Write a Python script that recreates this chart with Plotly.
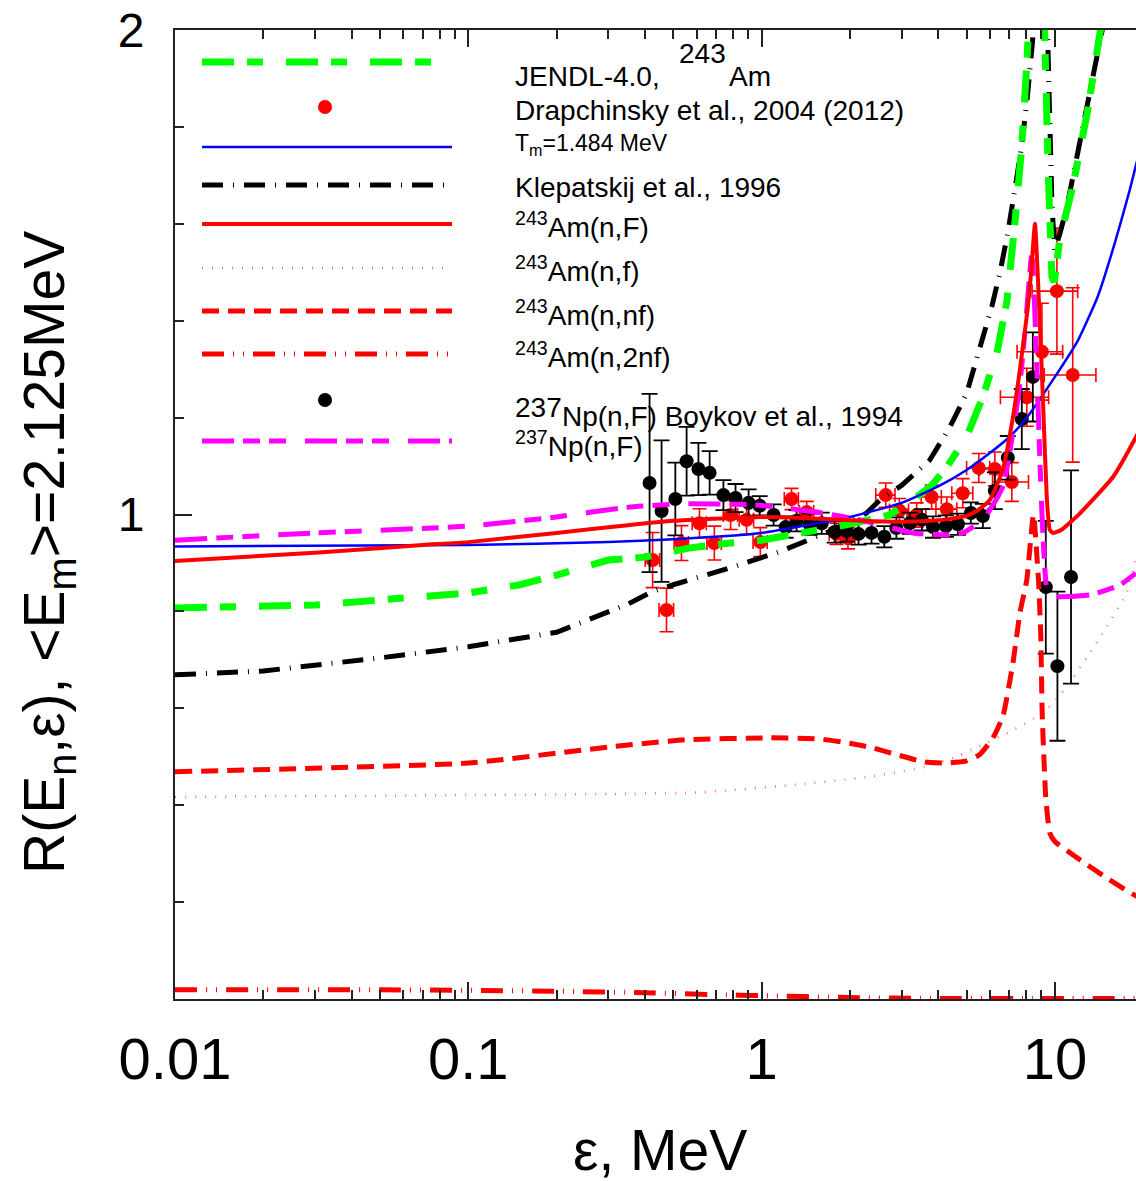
import plotly.graph_objects as go

# ---------------- data ----------------
# Maxwellian ratio, T_m = 1.484 MeV
blue_e = [0.01, 0.1, 0.3, 0.5, 1, 2, 3, 4, 5, 6, 7, 8, 10, 12, 14, 16, 18, 20]
blue_r = [0.934, 0.937, 0.943, 0.949, 0.962, 0.995, 1.024, 1.058, 1.092, 1.127,
          1.160, 1.199, 1.284, 1.36, 1.45, 1.56, 1.67, 1.78]

# 243Am(n,F) total
nF_e = [0.01, 0.03, 0.07, 0.1, 0.2, 0.35, 0.5, 0.8, 1, 1.5, 2, 3, 4, 5, 5.5, 6,
        6.64, 7.19, 7.6, 8.02, 8.3, 8.55, 8.85, 9.1, 9.39, 9.61, 9.84, 10.5,
        12.2, 15.8, 18.9, 20]
nF_r = [0.904, 0.921, 0.937, 0.943, 0.962, 0.978, 0.987, 0.993, 0.995, 0.992,
        0.988, 0.985, 0.988, 0.997, 1.01, 1.03, 1.092, 1.20, 1.30, 1.41, 1.50,
        1.60, 1.42, 1.24, 1.03, 0.968, 0.962, 0.968, 1.003, 1.078, 1.16, 1.19]

# JENDL-4.0 243Am
jendl_e = [0.01, 0.03, 0.1, 0.15, 0.2, 0.25, 0.3, 0.4, 0.57, 0.75, 1.0, 1.37, 2.0,
           2.73, 3.28, 3.8, 4.28, 5.0, 5.68, 6.34, 6.86, 7.3, 7.71, 8.02, 8.2,
           8.8, 9.22, 9.5, 9.77, 9.95, 10.4, 11.5, 12.9, 14.3, 16.0]
jendl_r = [0.807, 0.813, 0.838, 0.855, 0.875, 0.893, 0.906, 0.912, 0.931, 0.94,
           0.947, 0.962, 0.98, 0.999, 1.03, 1.06, 1.098, 1.16, 1.243, 1.333, 1.44,
           1.60, 1.76, 1.93, 2.05, 2.9, 2.0, 1.70, 1.49, 1.48, 1.57, 1.676, 1.83,
           2.0, 2.25]

# Klepatskij et al., 1996
klep_e = [0.01, 0.02, 0.05, 0.1, 0.2, 0.3, 0.35, 0.42, 0.5, 0.8, 1.15, 1.75, 2.28,
          2.53, 3.0, 3.74, 4.38, 5.0, 5.55, 6.1, 6.5, 6.9, 7.3, 7.7, 8.05, 8.4,
          8.9, 9.46, 9.6, 9.77, 9.98, 10.4, 10.99, 12.2, 13.5, 14.5, 16.0]
klep_r = [0.669, 0.677, 0.704, 0.727, 0.757, 0.80, 0.815, 0.84, 0.855, 0.892,
          0.923, 0.968, 1.003, 1.03, 1.06, 1.112, 1.18, 1.25, 1.34, 1.43, 1.50,
          1.58, 1.67, 1.76, 1.86, 1.98, 2.6, 2.0, 1.81, 1.64, 1.546, 1.58,
          1.635, 1.77, 1.90, 2.0, 2.2]

# 237Np(n,F)
np_e = [0.01, 0.03, 0.1, 0.2, 0.35, 0.54, 0.93, 1.15, 1.54, 2.16, 2.67, 3.28,
        4.28, 4.85, 5.68, 6.64, 7.19, 7.6, 7.9, 8.35, 8.68, 8.9, 9.1, 9.4, 9.8,
        10.4, 13.2, 16.7, 18.9, 20]
np_r = [0.947, 0.962, 0.976, 0.995, 1.015, 1.022, 1.02, 1.015, 1.005, 0.989,
        0.975, 0.962, 0.958, 0.962, 0.989, 1.057, 1.168, 1.27, 1.375, 1.54,
        1.30, 1.10, 0.96, 0.844, 0.83, 0.83, 0.834, 0.855, 0.879, 0.89]

# 243Am(n,nf)
nnf_e = [0.01, 0.1, 0.3, 0.55, 1.07, 1.56, 2.0, 2.4, 2.9, 3.6, 4.22, 4.96, 5.53,
         6.15, 6.66, 7.19, 7.6, 8.02, 8.45, 8.8, 8.95, 9.05, 9.3, 9.6, 10.0,
         12.0, 15.0, 18.0, 20]
nnf_r = [0.469, 0.487, 0.52, 0.535, 0.539, 0.537, 0.528, 0.518, 0.504, 0.489,
         0.487, 0.491, 0.504, 0.539, 0.585, 0.693, 0.797, 0.865, 1.0, 0.86,
         0.75, 0.59, 0.42, 0.343, 0.325, 0.29, 0.25, 0.22, 0.205]

# 243Am(n,f)
nf_e = [0.01, 0.1, 0.3, 0.63, 1.4, 2.4, 3.6, 4.7, 5.37, 7.0, 8.95, 9.84, 11.2,
        12.9, 15.0, 17.6, 18.9, 20]
nf_r = [0.417, 0.421, 0.423, 0.427, 0.444, 0.46, 0.479, 0.502, 0.518, 0.551,
        0.588, 0.61, 0.652, 0.706, 0.768, 0.84, 0.91, 0.96]

# 243Am(n,2nf)
n2nf_e = [0.01, 0.05, 0.1, 0.2, 0.4, 0.7, 1, 2, 4, 8, 20]
n2nf_r = [0.019, 0.019, 0.018, 0.016, 0.013, 0.009, 0.007, 0.003, 0.001, 0.001, 0.001]

# Drapchinsky et al., 2004 (2012)
dr_e = [0.425, 0.474, 0.533, 0.614, 0.69, 0.784, 0.889, 0.99, 1.265, 1.425, 1.8,
        1.97, 2.65, 2.95, 3.38, 3.8, 4.28, 4.85, 5.5, 6.24, 7.13, 8.02, 9.03,
        10.16, 11.5]
dr_r = [0.906, 0.803, 0.941, 0.982, 0.941, 0.999, 0.989, 0.943, 1.032, 1.005,
        0.96, 0.951, 1.04, 1.008, 0.999, 1.036, 1.011, 1.044, 1.096, 1.094,
        1.067, 1.242, 1.336, 1.461, 1.288]
dr_dr = [0.057, 0.045, 0.036, 0.03, 0.035, 0.03, 0.03, 0.03, 0.022, 0.022, 0.022,
         0.022, 0.025, 0.025, 0.025, 0.025, 0.025, 0.03, 0.03, 0.035, 0.04, 0.06,
         0.1, 0.13, 0.18]
dr_de = [0.024, 0.027, 0.03, 0.034, 0.039, 0.044, 0.05, 0.055, 0.07, 0.08, 0.1,
         0.11, 0.2, 0.22, 0.25, 0.3, 0.35, 0.4, 0.5, 0.7, 1.0, 1.5, 1.6, 1.8, 2.3]

# 237Np(n,F) Boykov et al., 1994
bo_e = [0.415, 0.456, 0.508, 0.555, 0.609, 0.665, 0.741, 0.815, 0.903, 0.985,
        1.099, 1.208, 1.316, 1.458, 1.603, 1.775, 1.95, 2.14, 2.37, 2.62, 2.88,
        3.2, 3.52, 3.84, 4.25, 4.67, 5.17, 5.68, 6.24, 6.91, 7.71, 8.41, 9.31,
        10.2, 11.35]
bo_r = [1.065, 1.007, 1.032, 1.11, 1.094, 1.086, 1.04, 1.034, 1.024, 1.018,
        0.999, 0.974, 0.987, 0.980, 0.982, 0.964, 0.966, 0.960, 0.962, 0.954,
        0.972, 0.982, 0.989, 0.974, 0.976, 0.98, 1.003, 0.997, 1.049, 1.117,
        1.197, 1.284, 0.85, 0.687, 0.871]
bo_dr = [0.184, 0.146, 0.075, 0.071, 0.054, 0.045, 0.031, 0.029, 0.028, 0.02,
         0.022, 0.022, 0.022, 0.022, 0.022, 0.022, 0.022, 0.022, 0.022, 0.022,
         0.022, 0.022, 0.022, 0.022, 0.022, 0.022, 0.022, 0.025, 0.038, 0.045,
         0.062, 0.092, 0.137, 0.154, 0.22]

x_ticks = [0.01, 0.1, 1, 10]
x_ticktext = ["0.01", "0.1", "1", "10"]
y_ticks = [0, 1, 2]
y_ticktext = ["", "1", "2"]

FONT = "Liberation Sans, Arial, Helvetica, sans-serif"

# ---------------- styles ----------------
GREEN = dict(color="#00ff00", width=7, dash="32px,13px,16px,23px")
BLACKDD = dict(color="#000000", width=5, dash="21px,10px,1px,10px")
BLUE = dict(color="#0000ff", width=2.5)
RED = dict(color="#ff0000", width=4)
PINKDOT = dict(color="rgba(255,60,60,0.7)", width=2.5, dash="1px,9px")
REDDASH = dict(color="#ff0000", width=5, dash="17px,9px")
REDDD = dict(color="#ff0000", width=5, dash="22px,9px,1px,9px,1px,9px")
MAGENTA = dict(color="#ff00ff", width=5, dash="32px,9px,17px,9px,17px,19px")

fig = go.Figure()

# experimental points
fig.add_trace(go.Scatter(
    x=dr_e, y=dr_r, mode="markers",
    marker=dict(color="#ff0000", size=14),
    error_y=dict(type="data", array=dr_dr, color="#ff0000", thickness=1.6, width=7),
    error_x=dict(type="data", array=dr_de, color="#ff0000", thickness=1.6, width=7),
    showlegend=False))
fig.add_trace(go.Scatter(
    x=bo_e, y=bo_r, mode="markers",
    marker=dict(color="#000000", size=14),
    error_y=dict(type="data", array=bo_dr, color="#000000", thickness=1.8, width=8),
    showlegend=False))

# calculated curves: (x, y, line style, spline smoothing; 0 -> straight segments)
curves = [
    (n2nf_e, n2nf_r, REDDD, 0.45),
    (nf_e, nf_r, PINKDOT, 0.45),
    (nnf_e, nnf_r, REDDASH, 0.45),
    (klep_e, klep_r, BLACKDD, 0),
    (jendl_e, jendl_r, GREEN, 0),
    (blue_e, blue_r, BLUE, 0.45),
    (np_e, np_r, MAGENTA, 0.45),
    (nF_e, nF_r, RED, 0.45),
]
for xs, ys, ln, sm in curves:
    shape = dict(shape="spline", smoothing=sm) if sm else dict(shape="linear")
    fig.add_trace(go.Scatter(x=xs, y=ys, mode="lines", line=dict(**ln, **shape),
                             showlegend=False, hoverinfo="skip"))

# ---------------- legend (drawn in plot-area pixels) ----------------
L, T, W, H = 175, 30, 961, 969


def px(x):
    return (x - L) / W


def py(y):
    return (T + H - y) / H


shapes = []
legend_lines = [
    (62, GREEN), (147, BLUE), (185, BLACKDD), (224, RED), (268, PINKDOT),
    (311, REDDASH), (354, REDDD), (441, MAGENTA),
]
for yy, ln in legend_lines:
    shapes.append(dict(type="line", xref="paper", yref="paper",
                       x0=px(202), x1=px(452), y0=py(yy), y1=py(yy),
                       line=dict(color=ln["color"], width=ln["width"], dash=ln.get("dash", "solid"))))
for yy, col in [(107, "#ff0000"), (400, "#000000")]:
    shapes.append(dict(type="circle", xref="paper", yref="paper",
                       xsizemode="pixel", ysizemode="pixel",
                       xanchor=px(325), yanchor=py(yy), x0=-7, x1=7, y0=-7, y1=7,
                       fillcolor=col, line=dict(width=0)))

annotations = []


def label(text, x, y, size=28):
    annotations.append(dict(text=text, xref="paper", yref="paper", x=px(x), y=py(y),
                            xanchor="left", yanchor="middle", showarrow=False,
                            font=dict(family=FONT, size=size, color="#000000")))


label("JENDL-4.0,", 513, 76)
label("243", 677, 54)
label("Am", 727, 76)
label("Drapchinsky et al., 2004 (2012)", 513, 110)
label("T<sub>m</sub>=1.484 MeV", 513, 144, size=23)
label("Klepatskij et al., 1996", 513, 188)
label("<sup>243</sup>Am(n,F)", 513, 225)
label("<sup>243</sup>Am(n,f)", 513, 269)
label("<sup>243</sup>Am(n,nf)", 513, 313)
label("<sup>243</sup>Am(n,2nf)", 513, 355)
label("237", 513, 407)
label("Np(n,F) Boykov et al., 1994", 560, 416)
label("<sup>237</sup>Np(n,F)", 513, 444)

# axis titles
annotations.append(dict(text="R(E<sub>n</sub>,ε), &lt;E<sub>m</sub>&gt;=2.125MeV",
                        xref="paper", yref="paper", x=px(48), y=py(553), textangle=-90,
                        xanchor="center", yanchor="middle", showarrow=False,
                        font=dict(family=FONT, size=57, color="#000000")))
annotations.append(dict(text="ε, MeV", xref="paper", yref="paper", x=px(660), y=py(1150),
                        xanchor="center", yanchor="middle", showarrow=False,
                        font=dict(family=FONT, size=57, color="#000000")))

axis_common = dict(showgrid=False, zeroline=False, showline=True, linecolor="#222222",
                   linewidth=2, ticks="inside", tickcolor="#222222", tickwidth=1.5)

fig.update_layout(
    width=1136, height=1181, autosize=False,
    margin=dict(l=L, r=0, t=T, b=1181 - T - H, pad=0),
    paper_bgcolor="white", plot_bgcolor="white",
    showlegend=False,
    shapes=shapes, annotations=annotations,
    xaxis=dict(type="log", range=[-2, 1.2765], tickvals=x_ticks, ticktext=x_ticktext,
               ticklen=17, mirror="allticks", ticklabelstandoff=8,
               tickfont=dict(family=FONT, size=58, color="#000000"),
               minor=dict(ticks="inside", ticklen=9, dtick="D1", tickcolor="#222222"),
               **axis_common),
    yaxis=dict(range=[0, 2], tickvals=y_ticks, ticktext=y_ticktext, ticklen=17,
               ticklabelstandoff=19,
               tickfont=dict(family=FONT, size=48, color="#000000"),
               minor=dict(ticks="inside", ticklen=9, dtick=0.2, tick0=0, tickcolor="#222222"),
               **axis_common),
)

fig.write_html("out.html")
